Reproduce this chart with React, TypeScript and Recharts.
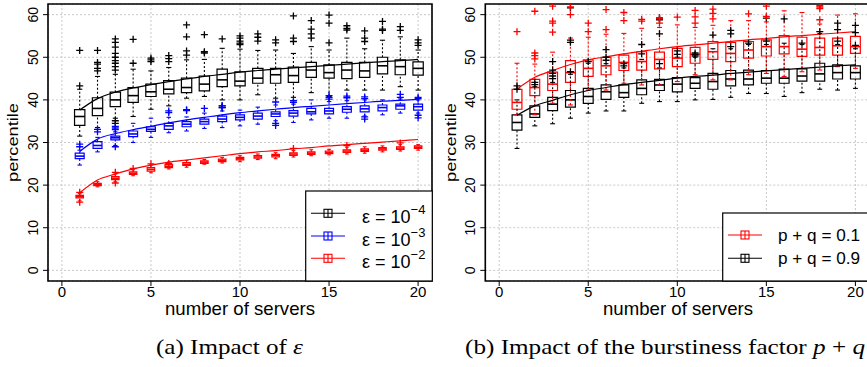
import React from 'react'
import {
  CartesianGrid,
  ComposedChart,
  Line,
  ReferenceArea,
  ReferenceLine,
  Scatter,
  XAxis,
  YAxis
} from 'recharts'

const servers = [1, 2, 3, 4, 5, 6, 7, 8, 9, 10, 11, 12, 13, 14, 15, 16, 17, 18, 19, 20]
const xTicks = [0, 5, 10, 15, 20]
const yTicks = [0, 10, 20, 30, 40, 50, 60]

// (a) eps = 1e-4
const e4Curve = [37.6, 40.3, 41.8, 42.8, 43.6, 44.3, 44.9, 45.5, 46.0, 46.5, 46.9, 47.2, 47.5, 47.8, 48.1, 48.4, 48.7, 49.0, 49.2, 49.5]
const e4Q1 = [34.0, 36.3, 38.4, 39.4, 40.8, 41.4, 41.7, 42.1, 43.1, 43.3, 43.9, 43.9, 44.1, 45.3, 45.1, 45.0, 45.3, 46.1, 45.9, 45.8]
const e4Med = [36.1, 38.0, 40.0, 41.0, 41.9, 42.5, 42.9, 43.7, 44.7, 44.4, 45.1, 45.9, 45.7, 47.0, 46.4, 47.0, 46.8, 48.0, 47.8, 47.4]
const e4Q3 = [37.7, 40.5, 41.8, 42.9, 43.7, 44.5, 45.1, 45.6, 47.2, 46.6, 47.4, 47.4, 47.7, 48.8, 48.2, 48.8, 48.8, 50.0, 49.4, 48.9]
const e4Lo = [31.5, 33.5, 35.7, 36.1, 37.8, 38.6, 40.4, 40.8, 40.0, 40.0, 41.2, 40.4, 40.6, 41.7, 40.8, 42.3, 42.3, 42.3, 43.1, 42.3]
const e4Hi = [42.5, 45.5, 46.0, 47.2, 46.8, 47.6, 49.4, 49.5, 52.1, 51.9, 51.6, 51.7, 50.9, 52.5, 51.7, 54.5, 52.0, 54.0, 54.8, 51.7]
const e4Out = [
  [43.3, 51.6], [46.8, 47.4, 48.4, 48.8, 51.6], [47.0, 47.8, 48.6, 49.2, 50.0, 50.9, 52.4, 53.5, 54.3, 35.1, 34.5],
  [48.6, 54.2], [49.0, 49.4, 49.8], [49.0, 49.7, 50.4], [50.5, 51.5, 54.8, 57.6], [51.0, 51.3, 55.3],
  [54.3, 38.6, 38.2], [53.0, 53.3, 53.8, 54.5, 55.0], [53.8, 54.7, 55.5], [53.4, 54.1], [53.7, 54.5, 59.7],
  [54.5, 55.5, 56.6, 58.6], [53.4, 58.0, 59.9], [56.4, 56.8, 57.4], [53.7, 54.5, 56.2], [56.3, 56.6, 58.4],
  [56.3, 57.2], [52.8, 53.4, 54.1]
]

// (a) eps = 1e-3
const e3Curve = [27.9, 30.8, 32.1, 33.0, 33.8, 34.6, 35.3, 35.9, 36.5, 37.0, 37.4, 37.8, 38.2, 38.5, 38.8, 39.1, 39.4, 39.7, 39.9, 40.1]
const e3Q1 = [26.2, 28.6, 30.6, 31.4, 32.6, 33.1, 33.7, 34.3, 34.9, 35.3, 35.5, 36.1, 36.2, 36.7, 36.7, 37.1, 37.2, 37.4, 37.8, 37.6]
const e3Med = [26.8, 29.3, 31.1, 32.0, 33.1, 33.9, 34.3, 34.9, 35.5, 35.9, 36.2, 36.7, 36.9, 37.2, 37.4, 37.8, 37.9, 38.2, 38.6, 38.4]
const e3Q3 = [27.5, 30.2, 31.5, 32.7, 33.7, 34.5, 34.9, 35.5, 36.2, 36.5, 36.9, 37.2, 37.5, 38.0, 38.0, 38.4, 38.6, 38.8, 39.0, 39.0]
const e3Lo = [24.7, 27.8, 29.3, 30.0, 31.2, 32.3, 32.7, 33.3, 33.5, 33.9, 34.3, 35.1, 34.7, 35.3, 35.7, 35.7, 36.2, 36.5, 36.9, 36.9]
const e3Hi = [28.2, 31.2, 32.5, 34.5, 35.7, 35.9, 36.0, 36.9, 37.4, 37.6, 38.3, 38.8, 39.0, 40.0, 39.6, 39.8, 40.0, 40.0, 40.2, 40.0]
const e3Out = [
  [29.0, 29.6], [32.5, 33.1], [33.0, 33.4, 33.8, 29.0], [], [], [37.0, 37.4], [37.5, 37.7], [38.0],
  [38.2, 38.6], [], [], [39.5, 34.5, 34.0], [39.4, 39.8], [], [40.2, 40.6, 41.0], [40.5, 40.9],
  [40.3, 40.7, 35.5, 36.0], [], [40.6, 41.3], [40.3, 40.6, 35.8, 36.4]
]

// (a) eps = 1e-2
const e2Curve = [18.2, 21.2, 22.6, 23.8, 24.7, 25.4, 25.9, 26.4, 26.9, 27.4, 27.8, 28.1, 28.5, 28.8, 29.2, 29.5, 29.8, 30.1, 30.4, 30.7]
const e2Q1 = [17.0, 19.9, 21.3, 22.5, 23.3, 24.1, 24.6, 25.1, 25.5, 25.9, 26.3, 26.6, 27.0, 27.2, 27.4, 27.7, 27.9, 28.2, 28.4, 28.6]
const e2Med = [17.3, 20.1, 21.6, 22.8, 23.7, 24.4, 24.9, 25.4, 25.8, 26.2, 26.6, 26.9, 27.3, 27.5, 27.7, 28.0, 28.2, 28.5, 28.7, 28.9]
const e2Q3 = [17.6, 20.4, 22.0, 23.1, 24.1, 24.8, 25.3, 25.7, 26.1, 26.5, 26.9, 27.2, 27.6, 27.8, 28.0, 28.3, 28.5, 28.8, 29.0, 29.2]
const e2Lo = [16.3, 19.6, 20.8, 22.2, 22.9, 23.8, 24.2, 24.9, 25.2, 25.5, 26.0, 26.2, 26.6, 26.9, 27.1, 27.3, 27.5, 27.8, 28.0, 28.2]
const e2Hi = [18.0, 20.8, 22.6, 23.6, 24.7, 25.4, 25.8, 26.0, 26.5, 26.9, 27.3, 27.6, 28.1, 28.3, 28.4, 28.9, 29.0, 29.2, 29.5, 29.5]
const e2Out = [
  [16.0, 18.3], [], [23.0, 20.5], [23.9], [25.0], [25.1], [], [], [], [], [], [], [28.6], [], [], [29.3], [], [], [29.9], []
]

// (b) p+q = 0.1
const pq1Curve = [42.5, 45.3, 46.9, 48.3, 49.4, 50.1, 50.8, 51.4, 52.0, 52.5, 52.9, 53.3, 53.7, 54.1, 54.4, 54.8, 55.1, 55.4, 55.7, 56.0]
const pq1Q1 = [37.8, 41.0, 42.2, 44.1, 45.5, 45.9, 46.9, 47.0, 47.3, 47.8, 48.6, 49.5, 49.0, 49.8, 50.3, 50.8, 50.2, 50.5, 50.5, 50.9]
const pq1Med = [39.4, 42.9, 43.7, 46.4, 47.4, 48.0, 48.8, 49.0, 49.5, 49.8, 50.7, 51.3, 50.9, 51.7, 52.5, 52.5, 51.9, 52.3, 52.7, 52.5]
const pq1Q3 = [42.5, 44.8, 46.5, 49.2, 49.4, 50.0, 50.5, 51.3, 51.2, 52.1, 52.3, 53.7, 53.5, 53.7, 54.1, 55.1, 54.7, 54.5, 54.5, 54.9]
const pq1Lo = [36.5, 36.5, 39.2, 38.8, 42.3, 42.3, 43.9, 43.5, 43.5, 44.3, 45.9, 44.7, 44.7, 45.9, 46.2, 45.5, 46.6, 47.0, 47.8, 47.4]
const pq1Hi = [48.6, 48.4, 51.2, 54.5, 54.7, 55.4, 55.6, 56.8, 57.0, 57.6, 57.0, 57.5, 58.6, 58.6, 58.3, 60.9, 60.5, 57.8, 59.9, 60.2]
const pq1Out = [
  [56.0], [49.6, 50.4, 51.0, 60.8], [55.9, 58.0, 58.5, 62.0], [60.0, 61.8], [56.0, 58.0], [56.5, 61.2],
  [58.6, 60.5], [58.5, 58.9], [58.0, 59.0, 59.3], [59.4], [58.0, 59.5, 61.0], [59.0, 60.3, 61.3], [], [60.2],
  [59.6, 62.0], [], [], [58.8, 61.4, 61.8, 62.1], [], []
]

// (b) p+q = 0.9
const pq9Curve = [36.4, 38.6, 39.9, 41.2, 42.2, 42.9, 43.6, 44.1, 44.6, 45.1, 45.5, 45.8, 46.2, 46.5, 46.8, 47.1, 47.4, 47.7, 48.0, 48.2]
const pq9Q1 = [32.9, 35.9, 37.5, 38.3, 39.2, 40.1, 40.6, 41.2, 42.2, 41.9, 42.7, 42.5, 43.3, 43.5, 43.9, 43.9, 44.4, 44.4, 44.9, 44.9]
const pq9Med = [34.7, 36.7, 39.0, 40.0, 40.8, 41.9, 41.7, 42.7, 43.5, 43.7, 43.9, 44.3, 44.9, 44.9, 45.1, 45.1, 45.6, 46.1, 46.4, 46.4]
const pq9Q3 = [36.5, 38.6, 40.6, 42.2, 42.7, 43.5, 43.5, 44.7, 44.8, 45.2, 45.2, 46.2, 46.9, 47.0, 46.9, 47.2, 47.3, 48.6, 48.2, 48.0]
const pq9Lo = [28.6, 33.9, 34.4, 35.7, 36.9, 37.4, 37.4, 39.2, 39.6, 39.6, 40.0, 40.1, 40.6, 41.5, 41.5, 40.8, 41.7, 42.5, 42.3, 42.7]
const pq9Hi = [40.0, 43.1, 44.1, 46.0, 48.6, 48.5, 47.5, 49.5, 47.5, 50.0, 50.0, 52.0, 52.0, 53.0, 53.0, 53.3, 53.0, 55.6, 53.0, 52.0]
const pq9Out = [
  [42.5, 43.3], [43.6, 44.1], [45.0, 45.6, 46.2, 47.0, 49.0], [46.6, 53.5, 54.0, 61.6], [49.0], [49.3, 50.0, 51.8],
  [48.0, 48.5], [50.8, 53.0], [48.5, 55.5, 58.8, 59.2], [50.7, 51.5], [50.3, 50.6, 51.0], [55.2], [52.5, 55.5, 56.3],
  [53.3], [53.8, 59.2], [59.0], [53.3], [56.0], [53.8, 56.5, 58.0], [52.8, 55.8, 57.5]
]

const SANS = '"Liberation Sans", Arial, Helvetica, sans-serif'
const SERIF = '"Liberation Serif", "Times New Roman", serif'
const X_DOMAIN: [number, number] = [-0.78, 20.78]
const Y_DOMAIN: [number, number] = [-2.5, 62.5]

type BoxSet = {
  name: string
  q1: number[]
  med: number[]
  q3: number[]
  lo: number[]
  hi: number[]
  out: number[][]
  color: string
  width: number
}

const plusShape = (color: string) => (props: any) => {
  const { cx, cy } = props
  if (cx == null || cy == null) return <g />
  return (
    <path
      d={`M${cx - 3.5},${cy}H${cx + 3.5}M${cx},${cy - 3.5}V${cy + 3.5}`}
      stroke={color}
      strokeWidth={1.3}
      fill="none"
    />
  )
}

function boxes(s: BoxSet) {
  const els: React.ReactNode[] = []
  const hw = s.width / 2
  servers.forEach((x, i) => {
    const k = `${s.name}-${x}`
    els.push(
      <ReferenceLine key={`${k}-wu`} segment={[{ x, y: s.q3[i] }, { x, y: s.hi[i] }]}
        stroke={s.color} strokeWidth={1.1} strokeDasharray="2 2" />,
      <ReferenceLine key={`${k}-wl`} segment={[{ x, y: s.lo[i] }, { x, y: s.q1[i] }]}
        stroke={s.color} strokeWidth={1.1} strokeDasharray="2 2" />,
      <ReferenceLine key={`${k}-su`} segment={[{ x: x - hw / 2, y: s.hi[i] }, { x: x + hw / 2, y: s.hi[i] }]}
        stroke={s.color} strokeWidth={1.1} />,
      <ReferenceLine key={`${k}-sl`} segment={[{ x: x - hw / 2, y: s.lo[i] }, { x: x + hw / 2, y: s.lo[i] }]}
        stroke={s.color} strokeWidth={1.1} />,
      <ReferenceArea key={`${k}-box`} x1={x - hw} x2={x + hw} y1={s.q1[i]} y2={s.q3[i]}
        fill="none" fillOpacity={0} stroke={s.color} strokeWidth={1.2} ifOverflow="visible" />,
      <ReferenceLine key={`${k}-md`} segment={[{ x: x - hw, y: s.med[i] }, { x: x + hw, y: s.med[i] }]}
        stroke={s.color} strokeWidth={1.6} />
    )
  })
  return els
}

const outliers = (s: BoxSet) =>
  servers.flatMap((x, i) => s.out[i].map(y => ({ x, y })))

const YTick = (props: any) => {
  const { x, y, payload } = props
  return (
    <text x={x} y={y} transform={`rotate(-90, ${x}, ${y})`} textAnchor="middle"
      fontSize={14} fontFamily={SANS} fill="#000">
      {payload.value}
    </text>
  )
}

function Panel(props: {
  yAxisWidth: number
  rightMargin: number
  rows: any[]
  lines: { key: string; color: string }[]
  sets: BoxSet[]
}) {
  const { yAxisWidth, rightMargin, rows, lines, sets } = props
  return (
    <ComposedChart
      width={440}
      height={320}
      data={rows}
      margin={{ top: 4, right: rightMargin, bottom: 0, left: 0 }}
    >
      <CartesianGrid stroke="#c8c8c8" strokeDasharray="2 2" />
      <XAxis
        type="number"
        dataKey="x"
        domain={X_DOMAIN}
        ticks={xTicks}
        interval={0}
        allowDataOverflow
        height={39}
        axisLine={false}
        tickLine={{ stroke: '#000' }}
        tickSize={5}
        tickMargin={0}
        tick={{ fill: '#000', fontSize: 15, fontFamily: SANS }}
      />
      <YAxis
        type="number"
        domain={Y_DOMAIN}
        ticks={yTicks}
        interval={0}
        allowDataOverflow
        width={yAxisWidth}
        axisLine={false}
        tickLine={{ stroke: '#000' }}
        tickSize={5}
        tickMargin={5}
        tick={YTick}
      />
      {sets.flatMap(s => boxes(s))}
      {sets.map(s => (
        <Scatter
          key={`${s.name}-out`}
          data={outliers(s)}
          dataKey="y"
          shape={plusShape(s.color)}
          isAnimationActive={false}
        />
      ))}
      {lines.map(l => (
        <Line
          key={l.key}
          type="monotone"
          dataKey={l.key}
          stroke={l.color}
          strokeWidth={1.2}
          dot={false}
          activeDot={false}
          isAnimationActive={false}
        />
      ))}
      <ReferenceArea
        x1={X_DOMAIN[0]}
        x2={X_DOMAIN[1]}
        y1={Y_DOMAIN[0]}
        y2={Y_DOMAIN[1]}
        fill="none"
        fillOpacity={0}
        stroke="#000"
        strokeWidth={1.6}
        ifOverflow="visible"
      />
    </ComposedChart>
  )
}

const LegendSymbol = ({ x, y, color }: { x: number; y: number; color: string }) => (
  <g stroke={color} strokeWidth={1.1} fill="none">
    <line x1={x} y1={y} x2={x + 34} y2={y} />
    <rect x={x + 13} y={y - 4} width={8} height={8} />
    <line x1={x + 17} y1={y - 4} x2={x + 17} y2={y + 4} />
  </g>
)

export default function App() {
  const leftRows = servers.map((x, i) => ({ x, e4: e4Curve[i], e3: e3Curve[i], e2: e2Curve[i] }))
  const rightRows = servers.map((x, i) => ({ x, a: pq1Curve[i], b: pq9Curve[i] }))

  const leftSets: BoxSet[] = [
    { name: 'e4', q1: e4Q1, med: e4Med, q3: e4Q3, lo: e4Lo, hi: e4Hi, out: e4Out, color: '#000000', width: 0.58 },
    { name: 'e3', q1: e3Q1, med: e3Med, q3: e3Q3, lo: e3Lo, hi: e3Hi, out: e3Out, color: '#0000ff', width: 0.5 },
    { name: 'e2', q1: e2Q1, med: e2Med, q3: e2Q3, lo: e2Lo, hi: e2Hi, out: e2Out, color: '#ff0000', width: 0.42 }
  ]
  const rightSets: BoxSet[] = [
    { name: 'b', q1: pq9Q1, med: pq9Med, q3: pq9Q3, lo: pq9Lo, hi: pq9Hi, out: pq9Out, color: '#000000', width: 0.55 },
    { name: 'a', q1: pq1Q1, med: pq1Med, q3: pq1Q3, lo: pq1Lo, hi: pq1Hi, out: pq1Out, color: '#ff0000', width: 0.55 }
  ]

  return (
    <div style={{ position: 'absolute', left: 0, top: 0, width: 867, height: 367, overflow: 'hidden', background: '#fff' }}>
      <div style={{ position: 'absolute', left: 0, top: 0 }}>
        <Panel
          yAxisWidth={48}
          rightMargin={8}
          rows={leftRows}
          sets={leftSets}
          lines={[
            { key: 'e4', color: '#000000' },
            { key: 'e3', color: '#0000ff' },
            { key: 'e2', color: '#ff0000' }
          ]}
        />
      </div>
      <div style={{ position: 'absolute', left: 432, top: 0 }}>
        <Panel
          yAxisWidth={53.3}
          rightMargin={2.7}
          rows={rightRows}
          sets={rightSets}
          lines={[
            { key: 'b', color: '#000000' },
            { key: 'a', color: '#ff0000' }
          ]}
        />
      </div>
      <svg width={867} height={367} style={{ position: 'absolute', left: 0, top: 0, pointerEvents: 'none' }}>
        <g fontFamily={SANS} fill="#000">
          <text x={18} y={142.5} transform="rotate(-90, 18, 142.5)" textAnchor="middle" fontSize={15}
            textLength={79} lengthAdjust="spacingAndGlyphs">percentile</text>
          <text x={456} y={142.5} transform="rotate(-90, 456, 142.5)" textAnchor="middle" fontSize={15}
            textLength={79} lengthAdjust="spacingAndGlyphs">percentile</text>
          <text x={240} y={315} textAnchor="middle" fontSize={19} textLength={150}
            lengthAdjust="spacingAndGlyphs">number of servers</text>
          <text x={678} y={315} textAnchor="middle" fontSize={19} textLength={150}
            lengthAdjust="spacingAndGlyphs">number of servers</text>
        </g>

        {/* legend (a) */}
        <rect x={305.7} y={191} width={126.6} height={90} fill="#fff" stroke="#000" strokeWidth={1.2} />
        <LegendSymbol x={311} y={213.3} color="#000000" />
        <LegendSymbol x={311} y={236} color="#0000ff" />
        <LegendSymbol x={311} y={258.3} color="#ff0000" />
        <g fontFamily={SANS} fontSize={18} fill="#000">
          <text x={362} y={223}>ε = 10<tspan fontSize={13} dy={-9}>−4</tspan></text>
          <text x={362} y={245.7}>ε = 10<tspan fontSize={13} dy={-9}>−3</tspan></text>
          <text x={362} y={268}>ε = 10<tspan fontSize={13} dy={-9}>−2</tspan></text>
        </g>

        {/* legend (b) */}
        <rect x={722.7} y={213} width={160} height={68} fill="#fff" stroke="#000" strokeWidth={1.2} />
        <LegendSymbol x={728} y={235} color="#ff0000" />
        <LegendSymbol x={728} y={258.3} color="#000000" />
        <g fontFamily={SANS} fontSize={17} fill="#000">
          <text x={778} y={241} textLength={82} lengthAdjust="spacingAndGlyphs">p + q = 0.1</text>
          <text x={778} y={264.3} textLength={82} lengthAdjust="spacingAndGlyphs">p + q = 0.9</text>
        </g>

        <g fontFamily={SERIF} fontSize={21} fill="#000">
          <text x={156} y={354} textLength={147} lengthAdjust="spacingAndGlyphs">
            (a) Impact of <tspan fontStyle="italic">ε</tspan>
          </text>
          <text x={465} y={354} textLength={400} lengthAdjust="spacingAndGlyphs">
            (b) Impact of the burstiness factor <tspan fontStyle="italic">p</tspan> + <tspan fontStyle="italic">q</tspan>
          </text>
        </g>
      </svg>
    </div>
  )
}
